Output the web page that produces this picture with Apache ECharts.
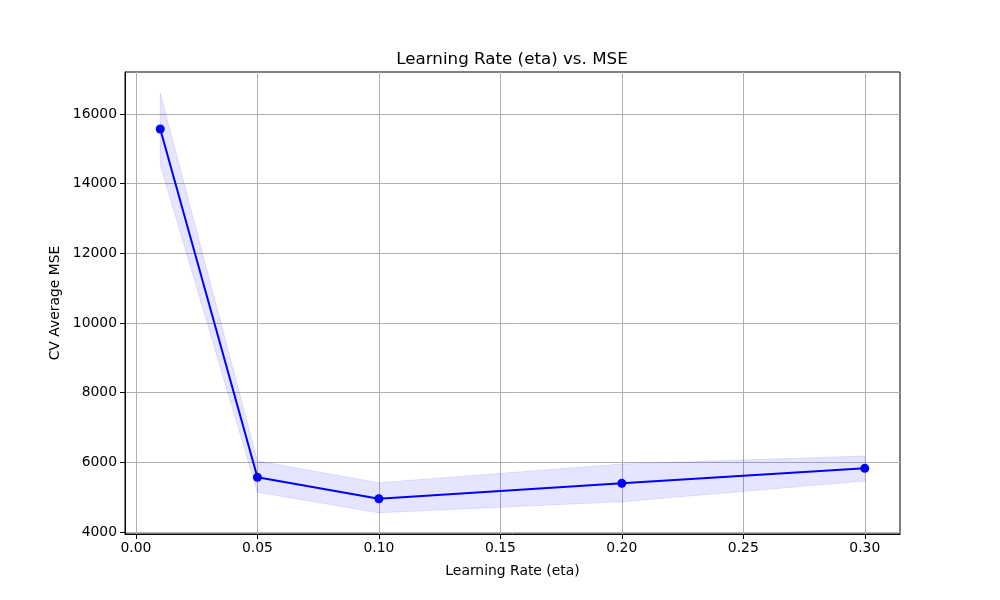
<!DOCTYPE html>
<html>
<head>
<meta charset="utf-8">
<script src="https://cdn.jsdelivr.net/npm/echarts@6/dist/echarts.min.js"></script>
<style>html,body{margin:0;padding:0;background:#fff}#c{width:1000px;height:600px}</style>
</head>
<body>
<div id="c"></div>
<script>
const etaValues = [0.01, 0.05, 0.1, 0.2, 0.3];
const mseMean = [15569, 5569, 4954, 5397, 5828];
const mseUpper = [16600, 6037, 5414, 5951, 6181];
const mseLower = [14543, 5138, 4552, 4868, 5463];
const xTicks = [0, 0.05, 0.1, 0.15, 0.2, 0.25, 0.3];
const yTicks = [4000, 6000, 8000, 10000, 12000, 14000, 16000];

const font = 'DejaVu Sans';
const chart = echarts.init(document.getElementById('c'));
const lineData = etaValues.map((x, i) => [x, mseMean[i]]);
const bandData = etaValues.map((x, i) => [x, mseLower[i], mseUpper[i]]);

chart.setOption({
  animation: false,
  title: {
    text: 'Learning Rate (eta) vs. MSE',
    left: 507, top: 46, textAlign: 'center',
    textStyle: {fontFamily: font, fontSize: 16.7, fontWeight: 'normal', color: '#000'}
  },
  grid: {left: 125, right: 100, top: 72, bottom: 66, show: true, borderColor: '#000', borderWidth: 1, backgroundColor: 'transparent'},
  xAxis: {
    type: 'value', min: -0.0045, max: 0.3145,
    name: 'Learning Rate (eta)', nameLocation: 'middle', nameGap: 30,
    nameTextStyle: {fontFamily: font, fontSize: 13.9, color: '#000'},
    axisLine: {show: true, onZero: false, lineStyle: {color: '#000'}},
    axisTick: {show: true, customValues: xTicks, length: 5, lineStyle: {color: '#000'}},
    axisLabel: {customValues: xTicks, fontFamily: font, fontSize: 13.9, color: '#000', margin: 7,
      formatter: v => v.toFixed(2)},
    splitLine: {show: true, lineStyle: {color: '#b0b0b0', width: 1}}
  },
  yAxis: {
    type: 'value', min: 3942, max: 17206,
    name: 'CV Average MSE', nameLocation: 'middle', nameGap: 62, nameRotate: 90,
    nameTextStyle: {fontFamily: font, fontSize: 13.9, color: '#000'},
    axisLine: {show: true, onZero: false, lineStyle: {color: '#000'}},
    axisTick: {show: true, customValues: yTicks, length: 5, lineStyle: {color: '#000'}},
    axisLabel: {customValues: yTicks, fontFamily: font, fontSize: 13.9, color: '#000', margin: 8,
      formatter: v => String(v)},
    splitLine: {show: true, lineStyle: {color: '#b0b0b0', width: 1}}
  },
  series: [
    {
      type: 'custom',
      data: bandData,
      encode: {x: 0, y: [1, 2]},
      renderItem: function (params, api) {
        if (params.dataIndex !== 0) return null;
        const upper = bandData.map(d => api.coord([d[0], d[2]]));
        const lower = bandData.map(d => api.coord([d[0], d[1]])).reverse();
        return {
          type: 'polygon',
          shape: {points: upper.concat(lower)},
          style: {fill: 'rgba(0,0,255,0.1)', stroke: 'rgba(0,0,255,0.1)', lineWidth: 1}
        };
      },
      z: 1
    },
    {
      type: 'line',
      data: lineData,
      symbol: 'circle', symbolSize: 9,
      itemStyle: {color: '#0000ff'},
      lineStyle: {color: '#0000ff', width: 2},
      z: 3
    }
  ]
});
</script>
</body>
</html>
